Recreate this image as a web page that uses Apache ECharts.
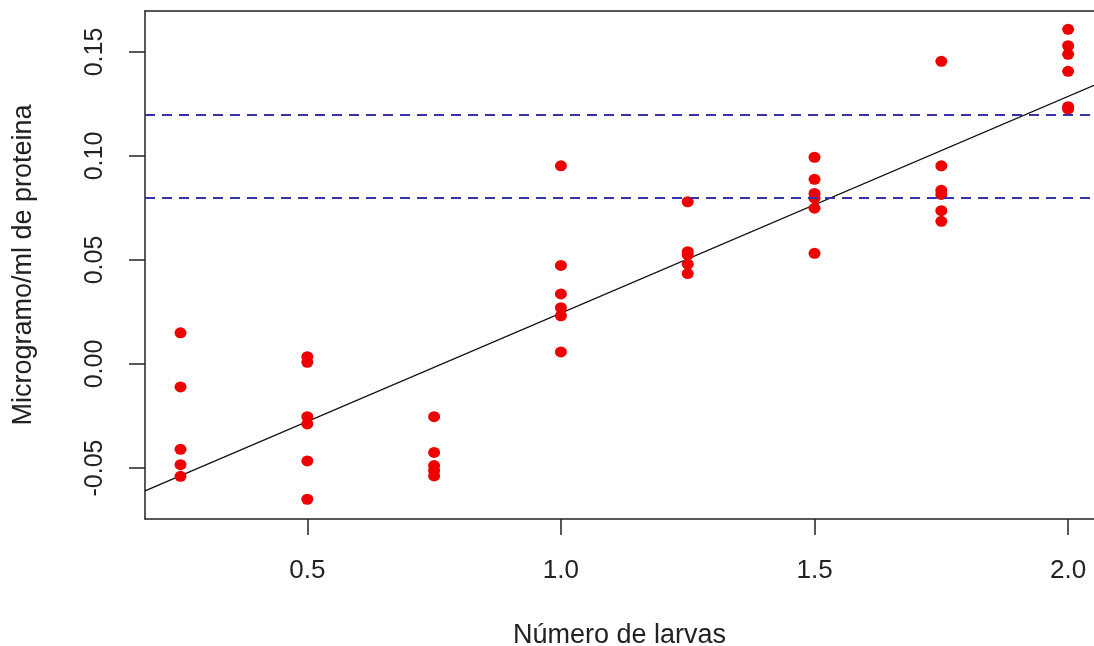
<!DOCTYPE html>
<html>
<head>
<meta charset="utf-8">
<script src="https://cdn.jsdelivr.net/npm/echarts@6/dist/echarts.min.js"></script>
<style>
html,body{margin:0;padding:0;background:#fff;}
#chart{width:1094px;height:646px;}
</style>
</head>
<body>
<div id="chart"></div>
<script>
// Data
const x025 = [0.015, -0.011, -0.041, -0.0484, -0.054];
const x050 = [0.0035, 0.0008, -0.0253, -0.0288, -0.0466, -0.065];
const x075 = [-0.0253, -0.0425, -0.0488, -0.0512, -0.0538];
const x100 = [0.0953, 0.0474, 0.0337, 0.0271, 0.0232, 0.0058];
const x125 = [0.078, 0.054, 0.0525, 0.048, 0.0435];
const x150 = [0.0994, 0.0888, 0.082, 0.0797, 0.0749, 0.0532];
const x175 = [0.1455, 0.0953, 0.0835, 0.0815, 0.0737, 0.0686];
const x200 = [0.1609, 0.153, 0.1489, 0.1407, 0.1237, 0.1225];
const groupX = [0.25, 0.5, 0.75, 1.0, 1.25, 1.5, 1.75, 2.0];
const groupY = [x025, x050, x075, x100, x125, x150, x175, x200];

const refLines = [0.08, 0.12];
const fitLine = [[0.18, -0.0610], [2.051, 0.1340]];

const xTicks = [0.5, 1.0, 1.5, 2.0];
const xTickLabels = ['0.5', '1.0', '1.5', '2.0'];
const yTicks = [-0.05, 0, 0.05, 0.10, 0.15];
const yTickLabels = ['-0.05', '0.00', '0.05', '0.10', '0.15'];

const points = [];
groupX.forEach((gx, i) => groupY[i].forEach(v => points.push([gx, v])));

const FONT = 'Liberation Sans, Arial, sans-serif';
const INK = '#222';
const chart = echarts.init(document.getElementById('chart'), null, {renderer: 'canvas'});
chart.setOption({
  animation: false,
  backgroundColor: '#ffffff',
  grid: {left: 145, top: 11, right: 0, bottom: 127, show: false, containLabel: false, outerBoundsMode: 'none'},
  xAxis: [{
    type: 'value', min: 0.18, max: 2.051, position: 'bottom',
    name: 'Número de larvas', nameLocation: 'middle', nameGap: 103,
    nameTextStyle: {fontFamily: FONT, fontSize: 27, color: INK},
    axisLine: {show: true, onZero: false, lineStyle: {color: INK, width: 1.5}},
    axisTick: {show: true, length: 16, customValues: xTicks, lineStyle: {color: INK, width: 1.5}},
    axisLabel: {
      customValues: xTicks, margin: 39, fontFamily: FONT, fontSize: 26, color: INK,
      formatter: v => xTickLabels[xTicks.findIndex(t => Math.abs(t - v) < 1e-9)]
    },
    splitLine: {show: false}
  }, {
    type: 'value', min: 0.18, max: 2.051, position: 'top',
    axisLine: {show: true, onZero: false, lineStyle: {color: INK, width: 1.5}},
    axisTick: {show: false}, axisLabel: {show: false}, splitLine: {show: false}
  }],
  yAxis: {
    type: 'value', min: -0.0745, max: 0.1697,
    name: 'Microgramo/ml de proteina', nameLocation: 'middle', nameGap: 108,
    nameTextStyle: {fontFamily: FONT, fontSize: 27, color: INK},
    axisLine: {show: true, onZero: false, lineStyle: {color: INK, width: 1.5}},
    axisTick: {show: true, length: 16, customValues: yTicks, lineStyle: {color: INK, width: 1.5}},
    axisLabel: {
      customValues: yTicks, rotate: 90, margin: 37, fontFamily: FONT, fontSize: 25, color: INK,
      formatter: v => yTickLabels[yTicks.findIndex(t => Math.abs(t - v) < 1e-9)]
    },
    splitLine: {show: false}
  },
  series: [
    {
      type: 'line', data: fitLine, symbol: 'none', silent: true, z: 3,
      lineStyle: {color: '#111', width: 1.3},
      markLine: {
        silent: true, symbol: 'none', label: {show: false},
        lineStyle: {color: '#3434a8', width: 1.8, type: [10, 7], opacity: 1},
        data: refLines.map(v => ({yAxis: v}))
      }
    },
    {
      type: 'scatter', data: points, symbol: 'circle', symbolSize: [12, 11], z: 4,
      itemStyle: {color: '#ee0000', opacity: 1}
    }
  ]
});
</script>
</body>
</html>
